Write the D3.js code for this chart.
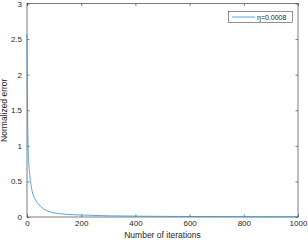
<!DOCTYPE html>
<html>
<head>
<meta charset="utf-8">
<script src="https://d3js.org/d3.v7.min.js"></script>
<style>
body { margin: 0; background: #fff; }
text { font-family: "Liberation Sans", Arial, sans-serif; }
</style>
</head>
<body>
<div id="chart"></div>
<script>
// data
var iterations = [0, 1, 2, 3, 4, 6, 8, 10, 13, 17, 22, 27, 32, 40, 50, 63, 80, 100, 125, 150, 200, 250, 300, 400, 500, 600, 700, 800, 900, 1000];
var errorVals = [2.57, 1.9, 1.5, 1.22, 1.0, 0.8, 0.68, 0.6, 0.5, 0.4, 0.32, 0.27, 0.235, 0.19, 0.15, 0.11, 0.08, 0.058, 0.045, 0.036, 0.028, 0.022, 0.017, 0.012, 0.009, 0.007, 0.006, 0.005, 0.004, 0.004];
var xTicks = [0, 200, 400, 600, 800, 1000];
var yTicks = [0, 0.5, 1, 1.5, 2, 2.5, 3];
var seriesName = "\u03b7=0.0008";

var W = 308, H = 242;
var margin = {top: 3.5, right: 10, left: 27, bottom: 25};

var svg = d3.select("#chart").append("svg").attr("width", W).attr("height", H);

var xScale = d3.scaleLinear().domain([0, 1000]).range([margin.left, W - margin.right]);
var yScale = d3.scaleLinear().domain([0, 3]).range([H - margin.bottom, margin.top]);

var axCol = "#262626";

// box
svg.append("rect")
  .attr("x", xScale(0)).attr("y", yScale(3))
  .attr("width", xScale(1000) - xScale(0)).attr("height", yScale(0) - yScale(3))
  .attr("fill", "none").attr("stroke", axCol).attr("stroke-width", 0.6);

// bottom axis, ticks inside
var xAxis = svg.append("g").attr("transform", "translate(0," + yScale(0) + ")")
  .call(d3.axisBottom(xScale).tickValues(xTicks).tickFormat(d3.format("d")).tickSizeInner(-2.5).tickSizeOuter(0).tickPadding(3));
var yAxis = svg.append("g").attr("transform", "translate(" + xScale(0) + ",0)")
  .call(d3.axisLeft(yScale).tickValues(yTicks).tickFormat(d3.format("")).tickSizeInner(-2.5).tickSizeOuter(0).tickPadding(5));
// top/right ticks
svg.append("g").attr("transform", "translate(0," + yScale(3) + ")")
  .call(d3.axisTop(xScale).tickValues(xTicks).tickSizeInner(-2.5).tickSizeOuter(0).tickFormat(""));
svg.append("g").attr("transform", "translate(" + xScale(1000) + ",0)")
  .call(d3.axisRight(yScale).tickValues(yTicks).tickSizeInner(-2.5).tickSizeOuter(0).tickFormat(""));

svg.selectAll(".domain").remove();
svg.selectAll(".tick line").attr("stroke", axCol).attr("stroke-width", 0.6);
svg.selectAll(".tick text").attr("fill", axCol).style("font-size", "8px");

// curve
var pts = iterations.map(function(d, i) { return [d, errorVals[i]]; });
var line = d3.line().x(function(d) { return xScale(d[0]); }).y(function(d) { return yScale(d[1]); })
  .curve(d3.curveMonotoneX);
svg.append("path").datum(pts)
  .attr("d", line).attr("fill", "none")
  .attr("stroke", "#2f8fd6").attr("stroke-width", 0.8);

// axis labels
svg.append("text").attr("x", (xScale(0) + xScale(1000)) / 2).attr("y", 238)
  .attr("text-anchor", "middle").attr("fill", axCol).style("font-size", "8.5px")
  .text("Number of iterations");
svg.append("text").attr("transform", "translate(7," + (yScale(1.5)) + ") rotate(-90)")
  .attr("text-anchor", "middle").attr("fill", axCol).style("font-size", "8.5px")
  .text("Normalized error");

// legend
var lg = svg.append("g");
lg.append("rect").attr("x", 228.5).attr("y", 11.5).attr("width", 64).attr("height", 11)
  .attr("fill", "#fff").attr("stroke", axCol).attr("stroke-width", 0.5);
lg.append("line").attr("x1", 232).attr("x2", 255).attr("y1", 17).attr("y2", 17)
  .attr("stroke", "#2f8fd6").attr("stroke-width", 0.8);
lg.append("text").attr("x", 257).attr("y", 19.5).attr("fill", axCol).style("font-size", "7px")
  .text(seriesName);
</script>
</body>
</html>
